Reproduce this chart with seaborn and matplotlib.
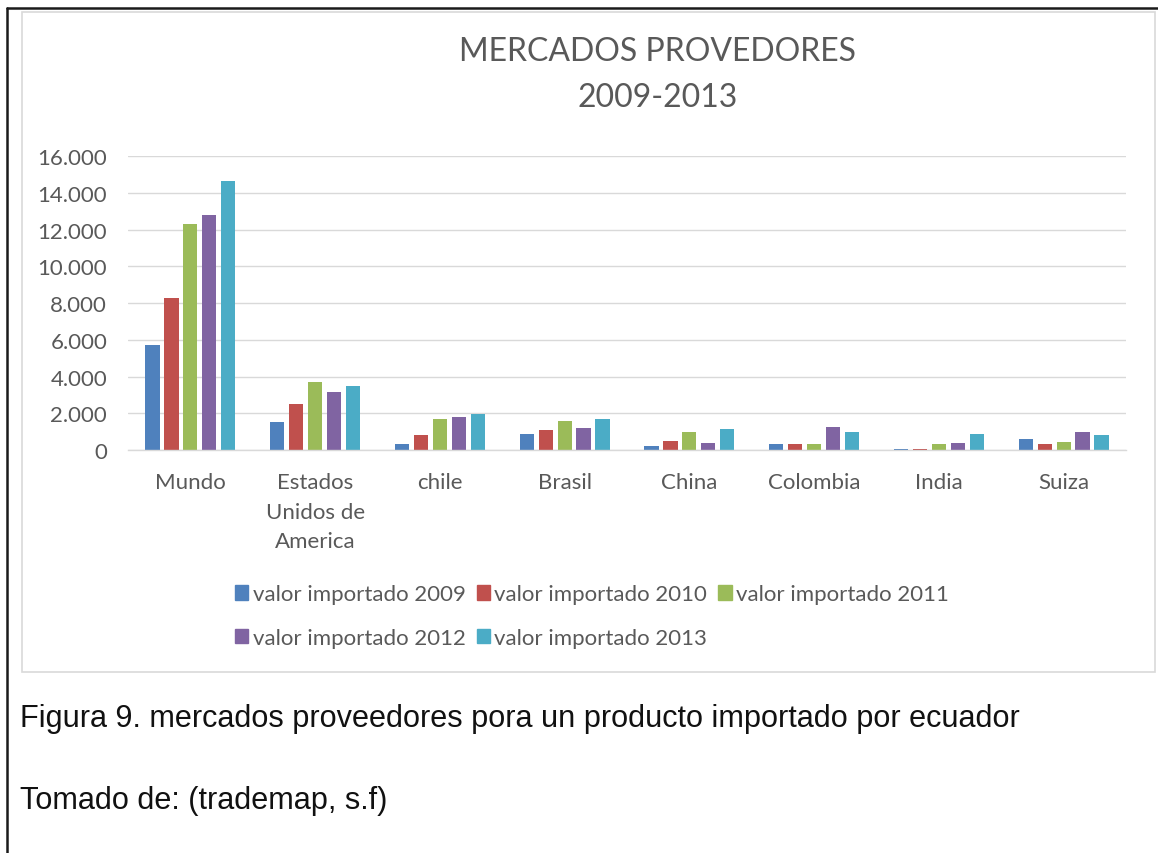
import numpy as np
import pandas as pd
import matplotlib
matplotlib.use("Agg")
import matplotlib.pyplot as plt
import seaborn as sns
from matplotlib.patches import Rectangle
from matplotlib.lines import Line2D
from matplotlib.ticker import FuncFormatter

# datos
paises = ["Mundo", "Estados\nUnidos de\nAmerica", "chile", "Brasil", "China",
          "Colombia", "India", "Suiza"]
anios = ["valor importado 2009", "valor importado 2010", "valor importado 2011",
         "valor importado 2012", "valor importado 2013"]
v2009 = [5700, 1540, 350, 870, 220, 310, 70, 620]
v2010 = [8250, 2480, 820, 1090, 510, 350, 70, 310]
v2011 = [12300, 3710, 1710, 1560, 1000, 330, 350, 420]
v2012 = [12800, 3130, 1820, 1220, 360, 1270, 400, 960]
v2013 = [14660, 3480, 1960, 1710, 1130, 1000, 890, 820]
colores = ["#4F81BD", "#C0504D", "#9BBB59", "#8064A2", "#4BACC6"]

series = [v2009, v2010, v2011, v2012, v2013]
df = pd.DataFrame({
    "pais": np.tile(paises, len(anios)),
    "serie": np.repeat(anios, len(paises)),
    "valor": np.concatenate(series),
})

sns.set_theme(style="white")
plt.rcParams["font.family"] = ["Lato", "DejaVu Sans"]
gris = "#595959"

W, H = 1158, 854
fig = plt.figure(figsize=(W / 100, H / 100), dpi=100)
fig.patch.set_facecolor("white")

# marco negro de la celda y borde gris del area del grafico
fig.add_artist(Line2D([7 / W, 7 / W], [0, 1 - 9 / H], color="#1a1a1a", lw=1.8,
                      transform=fig.transFigure))
fig.add_artist(Line2D([7 / W, 1], [1 - 9 / H, 1 - 9 / H], color="#1a1a1a", lw=1.8,
                      transform=fig.transFigure))
fig.add_artist(Rectangle((22 / W, 1 - 673 / H), (1155 - 22) / W, (673 - 13) / H,
                         transform=fig.transFigure, fill=False,
                         edgecolor="#D9D9D9", lw=1.2))

ax = fig.add_axes([128 / W, 1 - 451 / H, (1126 - 128) / W, (451 - 157) / H])
sns.barplot(data=df, x="pais", y="valor", hue="serie", palette=colores,
            width=0.76, gap=0.25, ax=ax, legend=False, errorbar=None,
            edgecolor="none", linewidth=0, saturation=1)

ax.set_ylim(0, 16000)
ax.set_xlim(-0.5, 7.5)
ax.set_yticks(np.arange(0, 16001, 2000))
ax.yaxis.set_major_formatter(FuncFormatter(lambda v, p: f"{int(v):,}".replace(",", ".")))
ax.grid(axis="y", color="#D9D9D9", lw=1.0)
ax.set_axisbelow(True)
sns.despine(ax=ax, left=True, right=True, top=True)
ax.spines["bottom"].set_color("#D9D9D9")
ax.spines["bottom"].set_linewidth(1.0)
ax.tick_params(axis="both", length=0, labelsize=16, labelcolor=gris)
ax.tick_params(axis="y", pad=15)
ax.tick_params(axis="x", pad=16)
for t in ax.get_xticklabels():
    t.set_linespacing(1.6)
    t.set_verticalalignment("top")
ax.set_xlabel("")
ax.set_ylabel("")

fig.text(658 / W, 1 - 75 / H, "MERCADOS PROVEDORES\n2009-2013", ha="center",
         va="center", fontsize=23, color=gris, linespacing=1.7)

# leyenda en dos filas (orden por columnas)
handles = [Rectangle((0, 0), 1, 1, color=c) for c in colores]
orden = [0, 3, 1, 4, 2]
fig.legend([handles[i] for i in orden], [anios[i] for i in orden],
           loc="center", bbox_to_anchor=(592 / W, 1 - 617 / H), ncol=3,
           frameon=False, fontsize=16, labelcolor=gris, handlelength=0.6,
           handleheight=0.6, handletextpad=0.2, columnspacing=0.5,
           labelspacing=1.05, borderpad=0)

fig.text(20 / W, 1 - 719 / H,
         "Figura 9. mercados proveedores pora un producto importado por ecuador",
         ha="left", va="center", fontsize=22.1, color="#111111",
         family=["Liberation Sans", "DejaVu Sans"])
fig.text(20 / W, 1 - 801 / H, "Tomado de: (trademap, s.f)", ha="left",
         va="center", fontsize=22.1, color="#111111",
         family=["Liberation Sans", "DejaVu Sans"])

fig.savefig("out.png", dpi=100)
